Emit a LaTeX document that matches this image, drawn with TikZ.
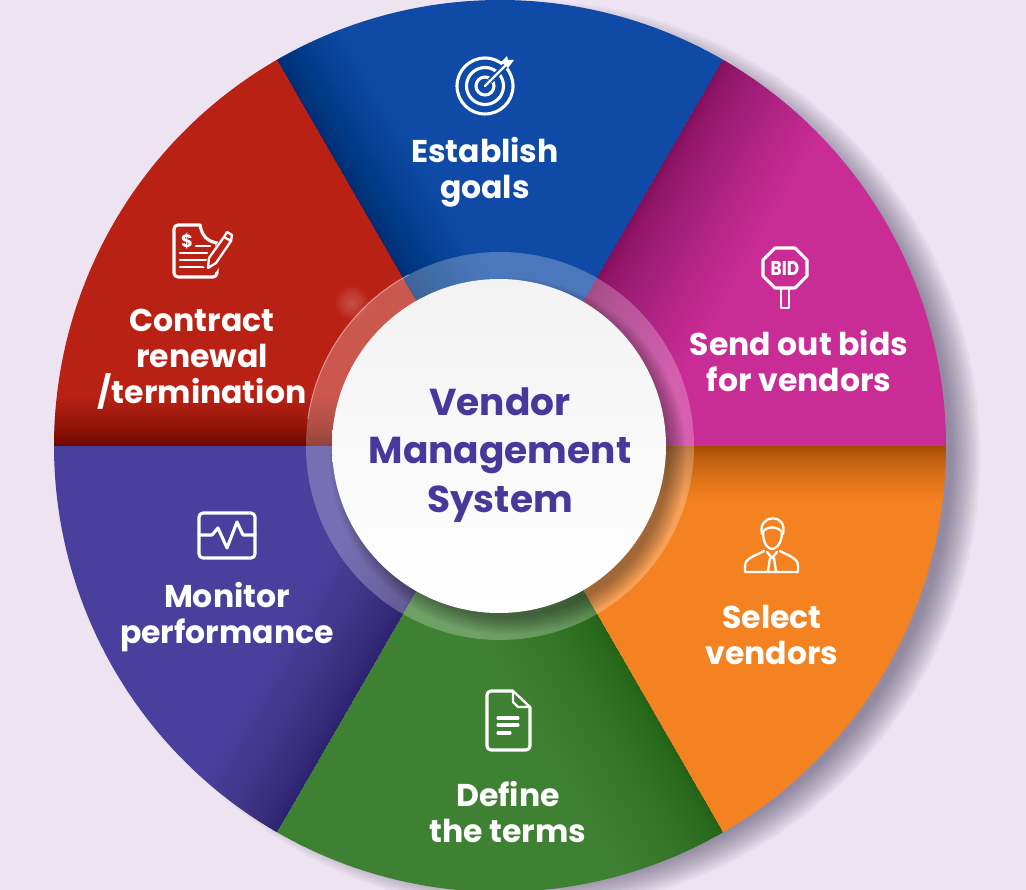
\documentclass[tikz,border=0pt]{standalone}
\usepackage{fontspec}
\setmainfont{Poppins}
\definecolor{bgc}{HTML}{EEE3F0}
\definecolor{cblue}{HTML}{0F4AA6}
\definecolor{cmag}{HTML}{C92C95}
\definecolor{corange}{HTML}{F58220}
\definecolor{cgreen}{HTML}{3F8133}
\definecolor{cpurple}{HTML}{4A3F9C}
\definecolor{cred}{HTML}{BA2115}
\definecolor{ctext}{HTML}{46399B}
\newcommand\pieslice[3]{\fill[#3] (0,0) -- (#1:446pt) arc[start angle=#1,end angle=#2,radius=446pt] -- cycle;}
\newcommand\edgeshade[5]{%
 \begin{scope}
 \clip (0,0) -- (#1:446pt) arc[start angle=#1,end angle=#2,radius=446pt] -- cycle;
 \begin{scope}[rotate=#3]
 \foreach \i in {1,...,30}{\pgfmathsetmacro\hh{#4*(\i/30)^1.7}\fill[black,opacity=#5] (-600,0) rectangle (600,\hh);}
 \end{scope}
 \end{scope}}
\tikzset{
 lbl/.style={text=white,font=\bfseries\fontsize{31.5}{36}\selectfont,anchor=base,inner sep=0pt},
 ttl/.style={text=ctext,font=\bfseries\fontsize{37.5}{42}\selectfont,anchor=base,inner sep=0pt},
 icon/.style={draw=white,line width=3.1pt,line join=round,line cap=round},
 thin icon/.style={draw=white,line width=2.3pt,line join=round,line cap=round},
}
\begin{document}
\begin{tikzpicture}[x=1pt,y=-1pt]
\useasboundingbox (0,0) rectangle (1026,890);
\fill[bgc] (0,0) rectangle (1026,890);
% outer soft shadow
\foreach \i in {1,...,16}{\pgfmathsetmacro\rr{425+\i*1.9}\fill[black!60!ctext,opacity=.033] (525,456) circle[radius=\rr pt];}
% pie
\begin{scope}[shift={(500,446)},x=1pt,y=1pt]
\pieslice{60}{120}{cblue}
\pieslice{0}{60}{cmag}
\pieslice{-60}{0}{corange}
\pieslice{-120}{-60}{cgreen}
\pieslice{180}{240}{cpurple}
\pieslice{120}{180}{cred}
\edgeshade{60}{120}{120}{-75}{.009}
\edgeshade{0}{60}{60}{-120}{.011}
\edgeshade{-60}{0}{0}{-55}{.012}
\edgeshade{-120}{-60}{-60}{-110}{.007}
\edgeshade{180}{240}{240}{-90}{.009}
\edgeshade{120}{180}{0}{50}{.015}
% ring
\fill[white,opacity=.25,even odd rule] (0,0) circle[radius=194pt] (-1,0) circle[radius=166pt];
\draw[white,opacity=.45,line width=1pt] (172:194pt) arc[start angle=172,end angle=118,radius=194pt];
% sparkle
\foreach \i in {1,...,14}{\fill[white,opacity=.018] (-148,143) circle[radius=\i*1.2 pt];}
% inner shadow
\foreach \i in {1,...,14}{\pgfmathsetmacro\rr{160+\i*1.3}\fill[black,opacity=.028] (8,-10) circle[radius=\rr pt];}
\shade[top color=black!5,bottom color=white] (-1,0) circle[radius=167pt];
\end{scope}
% labels
\node[lbl] (goal1) at (485,163) {Establish};
\node[lbl] (goal2) at (485,199) {goals};
\node[lbl] (red1) at (202,332) {Contract};
\node[lbl] (red2) at (202,368) {renewal};
\node[lbl] (red3) at (202,404) {/termination};
\node[lbl] (mag1) at (799,356) {Send out bids};
\node[lbl] (mag2) at (799,392) {for vendors};
\node[lbl] (ora1) at (772,628) {Select};
\node[lbl] (ora2) at (772,664) {vendors};
\node[lbl] (pur1) at (227,607) {Monitor};
\node[lbl] (pur2) at (227,643) {performance};
\node[lbl] (gre1) at (508,806) {Define};
\node[lbl] (gre2) at (508,842) {the terms};
\node[ttl] (t1) at (500,416) {Vendor};
\node[ttl] (t2) at (500,464) {Management};
\node[ttl] (t3) at (500,512) {System};
% target icon
\draw[icon] (485,86) circle[radius=28pt] (485,86) circle[radius=18.5pt] (485,86) circle[radius=9pt];
\draw[cblue,line width=6pt] (490,81) -- (512,59);
\draw[thin icon] (485,86) -- (505,66);
\fill[white] (501,62) -- (507,56) -- (508,60) -- (514,60) -- (508,68) -- cycle;
% contract icon
\draw[icon] (200,225) -- (181,225) [rounded corners=4pt] -- (174,225) -- (174,277) -- (217,277) -- (217,243);
\draw[icon] (200,225) .. controls (202,236) and (207,241) .. (217,243);
\node[text=white,font=\bfseries\fontsize{18}{18}\selectfont,inner sep=0pt] (dollar) at (187,241) {\$};
\draw[thin icon] (196,246) -- (210,246) (180,253) -- (207,253) (180,260) -- (207,260) (180,267) -- (204,267);
\fill[cred] (210,272) -- (203,266) -- (224,233) -- (236,240) -- (216,272) -- cycle;
\draw[thin icon] (208,268) -- (209,258) -- (224,237) -- (231,241) -- (216,263) -- cycle;
\draw[thin icon] (224,237) -- (227,232) -- (232,235) -- (231,241);
% bid icon
\draw[icon] (775,248) -- (795,248) -- (807,260) -- (807,276) -- (795,288) -- (775,288) -- (763,276) -- (763,260) -- cycle;
\draw[thin icon] (781,288) -- (781,308) -- (789,308) -- (789,288);
\node[text=white,font=\bfseries\fontsize{20}{20}\selectfont,inner sep=0pt,xscale=.85] (bid) at (785,268) {BID};
% person icon
\draw[thin icon] (762,534) .. controls (757,514) and (788,512) .. (783,534);
\draw[thin icon] (763,532) .. controls (763,545) and (769,549) .. (772,549) .. controls (775,549) and (782,545) .. (782,532);
\draw[thin icon] (763,532) .. controls (766,526) and (778,526) .. (782,532);
\draw[thin icon] (764,551) .. controls (755,556) and (745,558) .. (745,566) -- (745,572) -- (798,572) -- (798,566) .. controls (798,558) and (789,556) .. (780,551);
\draw[thin icon] (767,552) -- (772,558) -- (777,552) (770,558) -- (768,571) (774,558) -- (776,571);
% monitor icon
\draw[icon,rounded corners=4pt] (199,513) rectangle (255,558);
\draw[icon] (199,535) -- (212,535) -- (218,528) -- (227,548) -- (237,522) -- (243,535) -- (255,535);
% document icon
\draw[icon,rounded corners=4pt] (513,691) -- (487,691) -- (487,750) -- (530,750) -- (530,707);
\draw[thin icon] (513,691) -- (530,707) -- (518,707) -- (513,702) -- cycle;
\draw[icon] (498,718) -- (518,718) (498,725) -- (518,725) (498,733) -- (510,733);
\end{tikzpicture}
\end{document}
